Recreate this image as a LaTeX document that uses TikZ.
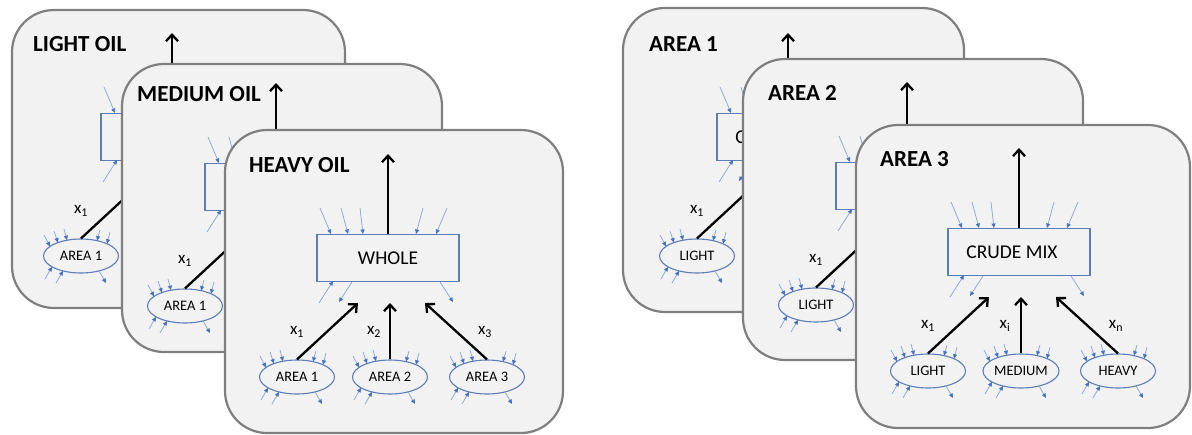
\documentclass[tikz,border=0pt]{standalone}
\usepackage{fontspec}
\setmainfont{Carlito}
\usetikzlibrary{arrows.meta,shapes.geometric}
\definecolor{panelfill}{HTML}{F2F2F2}
\definecolor{panelline}{HTML}{7F7F7F}
\definecolor{boxline}{HTML}{5B7DB8}
\definecolor{sline}{HTML}{8FAADC}
\definecolor{stip}{HTML}{4472C4}
\tikzset{
  panelbox/.style={fill=panelfill, draw=panelline, line width=2.2pt, rounded corners=42pt},
  titletext/.style={font=\bfseries\fontsize{23}{26}\selectfont, anchor=west, inner sep=0pt},
  mainbox/.style={draw=boxline, line width=1.1pt, minimum width=142pt, minimum height=47pt, anchor=north, font=\fontsize{19.5}{22}\selectfont, inner sep=0pt},
  areaell/.style={ellipse, draw=boxline, line width=1.1pt, minimum width=75pt, minimum height=34pt, inner sep=0pt, font=\fontsize{14.5}{16}\selectfont},
  bigarrow/.style={line width=2.3pt, -{Straight Barb[length=6.5pt,width=12pt]}},
  xlabel/.style={font=\fontsize{17}{20}\selectfont, inner sep=0pt},
  smallarrow/.style={draw=sline, line width=0.8pt, -{Triangle[length=4.5pt,width=4pt,color=stip]}},
}
\newcommand{\ellarrows}[2]{%
  \begin{scope}[shift={(#1,#2)}]
    \draw[smallarrow] (-37,-21) -- (-31,-9.6);
    \draw[smallarrow] (-27,-25) -- (-23,-13.4);
    \draw[smallarrow] (-17,-27) -- (-14,-15.8);
    \draw[smallarrow] (19,-26) -- (16,-15.4);
    \draw[smallarrow] (29,-24) -- (26,-12.3);
    \draw[smallarrow] (-36,23) -- (-29,10.8);
    \draw[smallarrow] (-25,27) -- (-18,14.9);
    \draw[smallarrow] (18,14.9) -- (25,27);
  \end{scope}}
\newcommand{\panelcontent}[8]{%
  \node[titletext] (title) at (-139,-69) {#1};
  \node[mainbox] (box) at (0,0) {#2};
  \node[areaell] (e1) at (-91,143) {#3};
  \node[areaell] (e2) at (2,143) {#4};
  \node[areaell] (e3) at (99,143) {#5};
  \coordinate (top) at (0,-80);
  \coordinate (t1) at (-30,69);
  \coordinate (t2) at (2,69);
  \coordinate (t3) at (37,69);
  \draw[bigarrow] (box.north) -- (top);
  \draw[bigarrow] (e1.north) -- (t1);
  \draw[bigarrow] (e2.north) -- (t2);
  \draw[bigarrow] (e3.north) -- (t3);
  \node[xlabel] (l1) at (-91,98) {#6};
  \node[xlabel] (l2) at (-14,98) {#7};
  \node[xlabel] (l3) at (97,98) {#8};
  \draw[smallarrow] (-68,-26) -- (-57,0);
  \draw[smallarrow] (-47,-26) -- (-40,0);
  \draw[smallarrow] (-28,-26) -- (-25,0);
  \draw[smallarrow] (35,-26) -- (28,0);
  \draw[smallarrow] (59,-26) -- (48,0);
  \draw[smallarrow] (-69,69) -- (-55,47);
  \draw[smallarrow] (-36,48) -- (-49,68);
  \draw[smallarrow] (52,48) -- (65,68);
  \ellarrows{-91}{143}%
  \ellarrows{2}{143}%
  \ellarrows{99}{143}%
}
\newcommand{\crude}{CRUDE MIX\hspace*{14pt}}
\begin{document}
\begin{tikzpicture}[x=1pt,y=-1pt]
  \useasboundingbox (0,0) rectangle (1192,434);
  % left group
  \draw[panelbox] (12,10) rectangle (345,308);
  \begin{scope}[shift={(172,113)}, name prefix=L1-]
    \panelcontent{LIGHT OIL}{}{AREA 1}{}{}{x\textsubscript{1}}{}{}
  \end{scope}
  \draw[panelbox] (122,64) rectangle (442,352);
  \begin{scope}[shift={(276,163)}, name prefix=L2-]
    \panelcontent{MEDIUM OIL}{}{AREA 1}{}{}{x\textsubscript{1}}{}{}
  \end{scope}
  \draw[panelbox] (225,130) rectangle (563,433);
  \begin{scope}[shift={(388,234)}, name prefix=L3-]
    \panelcontent{HEAVY OIL}{WHOLE}{AREA 1}{AREA 2}{AREA 3}{x\textsubscript{1}}{x\textsubscript{2}}{x\textsubscript{3}}
  \end{scope}
  % right group
  \draw[panelbox] (623,8) rectangle (964,312);
  \begin{scope}[shift={(788,113)}, name prefix=R1-]
    \panelcontent{AREA 1}{\crude}{LIGHT}{}{}{x\textsubscript{1}}{}{}
  \end{scope}
  \draw[panelbox] (743,59) rectangle (1083,360);
  \begin{scope}[shift={(907,162)}, name prefix=R2-]
    \panelcontent{AREA 2}{}{LIGHT}{}{}{x\textsubscript{1}}{}{}
  \end{scope}
  \draw[panelbox] (856,125) rectangle (1190,428);
  \begin{scope}[shift={(1019,228)}, name prefix=R3-]
    \panelcontent{AREA 3}{\crude}{LIGHT}{MEDIUM}{HEAVY}{x\textsubscript{1}}{x\textsubscript{i}}{x\textsubscript{n}}
  \end{scope}
\end{tikzpicture}
\end{document}
